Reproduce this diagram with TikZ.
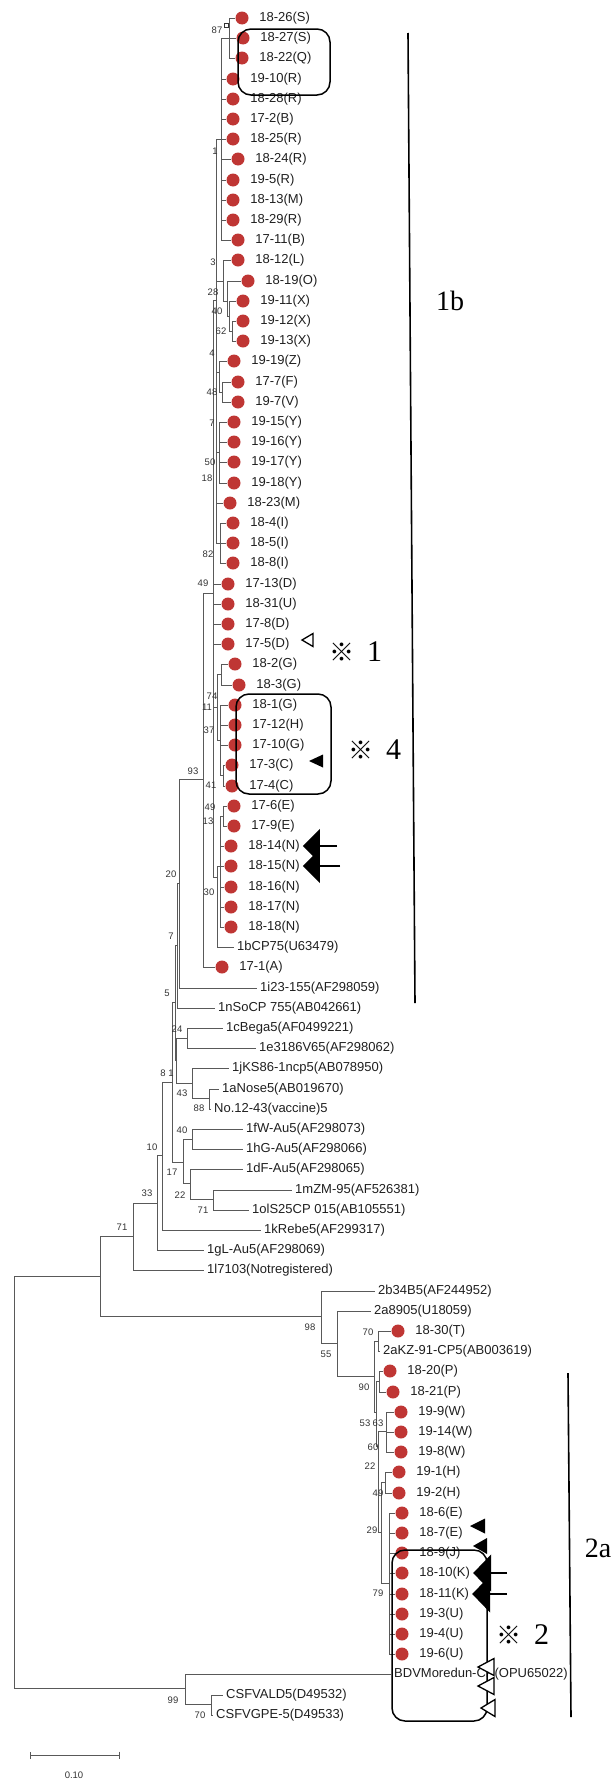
\documentclass[tikz,border=0pt]{standalone}
\usepackage{fontspec}
\setmainfont{Liberation Serif}
\setsansfont{Liberation Sans}
\newfontfamily\jpfont{Noto Sans CJK JP}
\usepackage{xcolor}
\usepackage{tikz}
\usetikzlibrary{positioning,arrows.meta}
\definecolor{dotred}{RGB}{191,54,52}
\newcommand{\refm}{{\jpfont\fontsize{25}{25}\selectfont ※}\hspace{13pt}}

\begin{document}
\begin{tikzpicture}[
  x=1pt, y=-1pt,
  br/.style={draw=black!65, line width=0.9pt},
  samp/.style={circle, fill=dotred, minimum size=13pt, inner sep=0pt},
  lab/.style={font=\sffamily\fontsize{13}{15}\selectfont, text=black!88,
              inner xsep=3pt, inner ysep=1pt, anchor=west},
  bs/.style={font=\sffamily\fontsize{9.5}{10}\selectfont, text=black!80, inner sep=0pt},
  grp/.style={draw=black, line width=1.5pt, rounded corners=13pt},
  clbar/.style={draw=black, line width=1.6pt},
  cl/.style={font=\fontsize{28}{28}\selectfont, inner sep=0pt},
  note/.style={font=\fontsize{30}{30}\selectfont, inner sep=0pt, anchor=west},
  bigarr/.style={draw=black, line width=1.3pt, -{Triangle[length=17pt,width=34pt]}},
  bigarrb/.style={draw=black, line width=1.3pt, -{Triangle[length=18pt,width=37pt]}},
  pics/fmk/.style args={#1/#2}{code={\fill[black] (0,0) -- (#1,#2/2) -- (#1,-#2/2) -- cycle;}},
  pics/omk/.style args={#1/#2}{code={\draw[black, line width=1.3pt, line join=miter, fill=white]
    (0,0) -- (#1,#2/2) -- (#1,-#2/2) -- cycle;}},
]
\useasboundingbox (0,0) rectangle (615,1780);

% sampled strains and reference strains
\node[samp] (d1826) at (242,18) {}; \node[lab, right=7.5pt of d1826] (t1826) {18-26(S)};
\node[samp] (d1827) at (243,38) {}; \node[lab, right=7.5pt of d1827] (t1827) {18-27(S)};
\node[samp] (d1822) at (242,58) {}; \node[lab, right=7.5pt of d1822] (t1822) {18-22(Q)};
\node[samp] (d1910) at (233,79) {}; \node[lab, right=7.5pt of d1910] (t1910) {19-10(R)};
\node[samp] (d1828) at (233,99) {}; \node[lab, right=7.5pt of d1828] (t1828) {18-28(R)};
\node[samp] (d172) at (233,119) {}; \node[lab, right=7.5pt of d172] (t172) {17-2(B)};
\node[samp] (d1825) at (233,139) {}; \node[lab, right=7.5pt of d1825] (t1825) {18-25(R)};
\node[samp] (d1824) at (238,159) {}; \node[lab, right=7.5pt of d1824] (t1824) {18-24(R)};
\node[samp] (d195) at (233,180) {}; \node[lab, right=7.5pt of d195] (t195) {19-5(R)};
\node[samp] (d1813) at (233,200) {}; \node[lab, right=7.5pt of d1813] (t1813) {18-13(M)};
\node[samp] (d1829) at (233,220) {}; \node[lab, right=7.5pt of d1829] (t1829) {18-29(R)};
\node[samp] (d1711) at (238,240) {}; \node[lab, right=7.5pt of d1711] (t1711) {17-11(B)};
\node[samp] (d1812) at (238,260) {}; \node[lab, right=7.5pt of d1812] (t1812) {18-12(L)};
\node[samp] (d1819) at (248,281) {}; \node[lab, right=7.5pt of d1819] (t1819) {18-19(O)};
\node[samp] (d1911) at (243,301) {}; \node[lab, right=7.5pt of d1911] (t1911) {19-11(X)};
\node[samp] (d1912) at (243,321) {}; \node[lab, right=7.5pt of d1912] (t1912) {19-12(X)};
\node[samp] (d1913) at (243,341) {}; \node[lab, right=7.5pt of d1913] (t1913) {19-13(X)};
\node[samp] (d1919) at (234,361) {}; \node[lab, right=7.5pt of d1919] (t1919) {19-19(Z)};
\node[samp] (d177) at (238,382) {}; \node[lab, right=7.5pt of d177] (t177) {17-7(F)};
\node[samp] (d197) at (238,402) {}; \node[lab, right=7.5pt of d197] (t197) {19-7(V)};
\node[samp] (d1915) at (234,422) {}; \node[lab, right=7.5pt of d1915] (t1915) {19-15(Y)};
\node[samp] (d1916) at (234,442) {}; \node[lab, right=7.5pt of d1916] (t1916) {19-16(Y)};
\node[samp] (d1917) at (234,462) {}; \node[lab, right=7.5pt of d1917] (t1917) {19-17(Y)};
\node[samp] (d1918) at (234,483) {}; \node[lab, right=7.5pt of d1918] (t1918) {19-18(Y)};
\node[samp] (d1823) at (230,503) {}; \node[lab, right=7.5pt of d1823] (t1823) {18-23(M)};
\node[samp] (d184) at (233,523) {}; \node[lab, right=7.5pt of d184] (t184) {18-4(I)};
\node[samp] (d185) at (233,543) {}; \node[lab, right=7.5pt of d185] (t185) {18-5(I)};
\node[samp] (d188) at (233,563) {}; \node[lab, right=7.5pt of d188] (t188) {18-8(I)};
\node[samp] (d1713) at (228,584) {}; \node[lab, right=7.5pt of d1713] (t1713) {17-13(D)};
\node[samp] (d1831) at (228,604) {}; \node[lab, right=7.5pt of d1831] (t1831) {18-31(U)};
\node[samp] (d178) at (228,624) {}; \node[lab, right=7.5pt of d178] (t178) {17-8(D)};
\node[samp] (d175) at (228,644) {}; \node[lab, right=7.5pt of d175] (t175) {17-5(D)};
\node[samp] (d182) at (235,664) {}; \node[lab, right=7.5pt of d182] (t182) {18-2(G)};
\node[samp] (d183) at (239,685) {}; \node[lab, right=7.5pt of d183] (t183) {18-3(G)};
\node[samp] (d181) at (235,705) {}; \node[lab, right=7.5pt of d181] (t181) {18-1(G)};
\node[samp] (d1712) at (235,725) {}; \node[lab, right=7.5pt of d1712] (t1712) {17-12(H)};
\node[samp] (d1710) at (235,745) {}; \node[lab, right=7.5pt of d1710] (t1710) {17-10(G)};
\node[samp] (d173) at (232,765) {}; \node[lab, right=7.5pt of d173] (t173) {17-3(C)};
\node[samp] (d174) at (232,786) {}; \node[lab, right=7.5pt of d174] (t174) {17-4(C)};
\node[samp] (d176) at (234,806) {}; \node[lab, right=7.5pt of d176] (t176) {17-6(E)};
\node[samp] (d179) at (234,826) {}; \node[lab, right=7.5pt of d179] (t179) {17-9(E)};
\node[samp] (d1814) at (231,846) {}; \node[lab, right=7.5pt of d1814] (t1814) {18-14(N)};
\node[samp] (d1815) at (231,866) {}; \node[lab, right=7.5pt of d1815] (t1815) {18-15(N)};
\node[samp] (d1816) at (231,887) {}; \node[lab, right=7.5pt of d1816] (t1816) {18-16(N)};
\node[samp] (d1817) at (231,907) {}; \node[lab, right=7.5pt of d1817] (t1817) {18-17(N)};
\node[samp] (d1818) at (231,927) {}; \node[lab, right=7.5pt of d1818] (t1818) {18-18(N)};
\node[lab] (r1bcp) at (234,947) {1bCP75(U63479)};
\node[samp] (d171) at (222,967) {}; \node[lab, right=7.5pt of d171] (t171) {17-1(A)};
\node[lab] (r1i23) at (257,988) {1i23-155(AF298059)};
\node[lab] (r1nso) at (215,1008) {1nSoCP 755(AB042661)};
\node[lab] (r1cbe) at (223,1028) {1cBega5(AF0499221)};
\node[lab] (r1e31) at (256,1048) {1e3186V65(AF298062)};
\node[lab] (r1jks) at (229,1068) {1jKS86-1ncp5(AB078950)};
\node[lab] (r1ano) at (219,1089) {1aNose5(AB019670)};
\node[lab] (rno12) at (211,1109) {No.12-43(vaccine)5};
\node[lab] (r1fw) at (243,1129) {1fW-Au5(AF298073)};
\node[lab] (r1hg) at (243,1149) {1hG-Au5(AF298066)};
\node[lab] (r1df) at (243,1169) {1dF-Au5(AF298065)};
\node[lab] (r1mzm) at (292,1190) {1mZM-95(AF526381)};
\node[lab] (r1ols) at (249,1210) {1olS25CP 015(AB105551)};
\node[lab] (r1kre) at (261,1230) {1kRebe5(AF299317)};
\node[lab] (r1gl) at (204,1250) {1gL-Au5(AF298069)};
\node[lab] (r1l7) at (204,1270) {1l7103(Notregistered)};
\node[lab] (r2b34) at (375,1291) {2b34B5(AF244952)};
\node[lab] (r2a89) at (371,1311) {2a8905(U18059)};
\node[samp] (d1830) at (398,1331) {}; \node[lab, right=7.5pt of d1830] (t1830) {18-30(T)};
\node[lab] (r2akz) at (380,1351) {2aKZ-91-CP5(AB003619)};
\node[samp] (d1820) at (390,1371) {}; \node[lab, right=7.5pt of d1820] (t1820) {18-20(P)};
\node[samp] (d1821) at (393,1392) {}; \node[lab, right=7.5pt of d1821] (t1821) {18-21(P)};
\node[samp] (d199) at (401,1412) {}; \node[lab, right=7.5pt of d199] (t199) {19-9(W)};
\node[samp] (d1914) at (401,1432) {}; \node[lab, right=7.5pt of d1914] (t1914) {19-14(W)};
\node[samp] (d198) at (401,1452) {}; \node[lab, right=7.5pt of d198] (t198) {19-8(W)};
\node[samp] (d191) at (399,1472) {}; \node[lab, right=7.5pt of d191] (t191) {19-1(H)};
\node[samp] (d192) at (399,1493) {}; \node[lab, right=7.5pt of d192] (t192) {19-2(H)};
\node[samp] (d186) at (402,1513) {}; \node[lab, right=7.5pt of d186] (t186) {18-6(E)};
\node[samp] (d187) at (402,1533) {}; \node[lab, right=7.5pt of d187] (t187) {18-7(E)};
\node[samp] (d189) at (402,1553) {}; \node[lab, right=7.5pt of d189] (t189) {18-9(J)};
\node[samp] (d1810) at (402,1573) {}; \node[lab, right=7.5pt of d1810] (t1810) {18-10(K)};
\node[samp] (d1811) at (402,1594) {}; \node[lab, right=7.5pt of d1811] (t1811) {18-11(K)};
\node[samp] (d193) at (402,1614) {}; \node[lab, right=7.5pt of d193] (t193) {19-3(U)};
\node[samp] (d194) at (402,1634) {}; \node[lab, right=7.5pt of d194] (t194) {19-4(U)};
\node[samp] (d196) at (402,1654) {}; \node[lab, right=7.5pt of d196] (t196) {19-6(U)};
\node[lab] (rbdv) at (391,1674) {BDVMoredun-CP(OPU65022)};
\node[lab] (rcsfa) at (223,1695) {CSFVALD5(D49532)};
\node[lab] (rcsfg) at (213,1715) {CSFVGPE-5(D49533)};

% internal nodes
\coordinate (n87) at (229,38);  \coordinate (nT) at (221,139);
\coordinate (n3) at (223,281);  \coordinate (n28) at (227,301);
\coordinate (n40) at (229,316); \coordinate (n62) at (232,331);
\coordinate (n4) at (219,372);  \coordinate (n48) at (222,392);
\coordinate (n7b) at (219,452); \coordinate (n82) at (220,543);
\coordinate (nU) at (216,300);  \coordinate (n74a) at (221,674);
\coordinate (n41) at (223,775); \coordinate (n37) at (220,740);
\coordinate (n74) at (217,707); \coordinate (n49c) at (223,816);
\coordinate (n13) at (220,866); \coordinate (n30) at (217,877);
\coordinate (n49) at (213,593); \coordinate (n93) at (203,779);
\coordinate (n20) at (179,883); \coordinate (n7) at (177,945);
\coordinate (n24) at (187,1038); \coordinate (n88) at (209,1098);
\coordinate (n43) at (192,1083); \coordinate (n1c) at (176,1060);
\coordinate (n5) at (175,1002); \coordinate (n40b) at (192,1139);
\coordinate (n71b) at (213,1199); \coordinate (n22b) at (190,1183);
\coordinate (n17) at (183,1162); \coordinate (n8) at (172,1082);
\coordinate (n10) at (162,1155); \coordinate (n33) at (157,1203);
\coordinate (n71) at (133,1236); \coordinate (nA) at (100,1276);
\coordinate (n98) at (321,1316); \coordinate (n55) at (337,1343);
\coordinate (n90) at (374,1376); \coordinate (n70) at (378,1341);
\coordinate (nP) at (379,1381); \coordinate (n63) at (386,1431);
\coordinate (nH) at (385,1482); \coordinate (n79) at (389,1583);
\coordinate (n29) at (381,1532); \coordinate (n22) at (378,1446);
\coordinate (n53) at (376,1412); \coordinate (n99) at (185,1688);
\coordinate (n70c) at (211,1704); \coordinate (nR) at (14,1482);

% branches
\draw[br] (n87) |- (d1826.west) (n87) |- (d1827.west) (n87) |- (d1822.west);
\draw[br] (nT) |- (n87) (nT) |- (d1910.west) (nT) |- (d1828.west) (nT) |- (d172.west)
  (nT) |- (d1825.west) (nT) |- (d1824.west) (nT) |- (d195.west) (nT) |- (d1813.west)
  (nT) |- (d1829.west) (nT) |- (d1711.west);
\draw[br] (n3) |- (d1812.west) (n3) |- (n28);
\draw[br] (n28) |- (d1819.west) (n28) |- (n40);
\draw[br] (n40) |- (d1911.west) (n40) |- (n62);
\draw[br] (n62) |- (d1912.west) (n62) |- (d1913.west);
\draw[br] (n4) |- (d1919.west) (n4) |- (n48);
\draw[br] (n48) |- (d177.west) (n48) |- (d197.west);
\draw[br] (n7b) |- (d1915.west) (n7b) |- (d1916.west) (n7b) |- (d1917.west) (n7b) |- (d1918.west);
\draw[br] (n82) |- (d184.west) (n82) |- (d185.west) (n82) |- (d188.west);
\draw[br] (nU) |- (nT) (nU) |- (n3) (nU) |- (n4) (nU) |- (n7b) (nU) |- (d1823.west) (nU) |- (n82);
\draw[br] (n74a) |- (d182.west) (n74a) |- (d183.west);
\draw[br] (n41) |- (d173.west) (n41) |- (d174.west);
\draw[br] (n37) |- (d181.west) (n37) |- (d1712.west) (n37) |- (d1710.west) (n37) |- (n41);
\draw[br] (n74) |- (n74a) (n74) |- (n37);
\draw[br] (n49c) |- (d176.west) (n49c) |- (d179.west);
\draw[br] (n13) |- (n49c) (n13) |- (d1814.west) (n13) |- (d1815.west) (n13) |- (d1816.west)
  (n13) |- (d1817.west) (n13) |- (d1818.west);
\draw[br] (n30) |- (n13) (n30) |- (r1bcp.west);
\draw[br] (n49) |- (nU) (n49) |- (d1713.west) (n49) |- (d1831.west) (n49) |- (d178.west)
  (n49) |- (d175.west) (n49) |- (n74) (n49) |- (n30);
\draw[br] (n93) |- (n49) (n93) |- (d171.west);
\draw[br] (n20) |- (n93) (n20) |- (r1i23.west);
\draw[br] (n7) |- (n20) (n7) |- (r1nso.west);
\draw[br] (n24) |- (r1cbe.west) (n24) |- (r1e31.west);
\draw[br] (n88) |- (r1ano.west) (n88) |- (rno12.west);
\draw[br] (n43) |- (r1jks.west) (n43) |- (n88);
\draw[br] (n1c) |- (n24) (n1c) |- (n43);
\draw[br] (n5) |- (n7) (n5) |- (n1c);
\draw[br] (n40b) |- (r1fw.west) (n40b) |- (r1hg.west);
\draw[br] (n71b) |- (r1mzm.west) (n71b) |- (r1ols.west);
\draw[br] (n22b) |- (r1df.west) (n22b) |- (n71b);
\draw[br] (n17) |- (n40b) (n17) |- (n22b);
\draw[br] (n8) |- (n5) (n8) |- (n17);
\draw[br] (n10) |- (n8) (n10) |- (r1kre.west);
\draw[br] (n33) |- (n10) (n33) |- (r1gl.west);
\draw[br] (n71) |- (n33) (n71) |- (r1l7.west);
\draw[br] (n70) |- (d1830.west) (n70) |- (r2akz.west);
\draw[br] (nP) |- (d1820.west) (nP) |- (d1821.west);
\draw[br] (n63) |- (d199.west) (n63) |- (d1914.west) (n63) |- (d198.west);
\draw[br] (nH) |- (d191.west) (nH) |- (d192.west);
\draw[br] (n79) |- (d186.west) (n79) |- (d187.west) (n79) |- (d189.west) (n79) |- (d1810.west)
  (n79) |- (d1811.west) (n79) |- (d193.west) (n79) |- (d194.west) (n79) |- (d196.west);
\draw[br] (n29) |- (nH) (n29) |- (n79);
\draw[br] (n22) |- (n63) (n22) |- (n29);
\draw[br] (n53) |- (nP) (n53) |- (n22);
\draw[br] (n90) |- (n70) (n90) |- (n53);
\draw[br] (n55) |- (r2a89.west) (n55) |- (n90);
\draw[br] (n98) |- (r2b34.west) (n98) |- (n55);
\draw[br] (nA) |- (n71) (nA) |- (n98);
\draw[br] (n70c) |- (rcsfa.west) (n70c) |- (rcsfg.west);
\draw[br] (n99) |- (rbdv.west) (n99) |- (n70c);
\draw[br] (nR) |- (nA) (nR) |- (n99);
\node[draw=black!80, line width=0.8pt, minimum size=4pt, inner sep=0pt] (sq87) at (226,25) {};

% bootstrap values
\node[bs] (b87) at (217,30) {87};
\node[bs] (b1) at (215,151) {1};
\node[bs] (b3) at (213,262) {3};
\node[bs] (b28) at (213,292) {28};
\node[bs] (b40) at (217,311) {40};
\node[bs] (b62) at (221,331) {62};
\node[bs] (b4) at (212,353) {4};
\node[bs] (b48) at (212,392) {48};
\node[bs] (b7) at (212,423) {7};
\node[bs] (b50) at (210,462) {50};
\node[bs] (b18) at (207,478) {18};
\node[bs] (b82) at (208,554) {82};
\node[bs] (b49) at (203,583) {49};
\node[bs] (b74) at (212,696) {74};
\node[bs] (b11) at (207,707) {11};
\node[bs] (b37) at (209,730) {37};
\node[bs] (b93) at (193,771) {93};
\node[bs] (b41) at (211,785) {41};
\node[bs] (b49c) at (210,807) {49};
\node[bs] (b13) at (208,821) {13};
\node[bs] (b30) at (209,892) {30};
\node[bs] (b20) at (171,874) {20};
\node[bs] (b7b) at (171,936) {7};
\node[bs] (b5) at (167,993) {5};
\node[bs] (b24) at (177,1029) {24};
\node[bs] (b8) at (163,1073) {8};
\node[bs] (b1c) at (171,1073) {1};
\node[bs] (b43) at (182,1093) {43};
\node[bs] (b88) at (199,1108) {88};
\node[bs] (b40b) at (182,1130) {40};
\node[bs] (b10) at (152,1147) {10};
\node[bs] (b17) at (172,1172) {17};
\node[bs] (b22b) at (180,1195) {22};
\node[bs] (b33) at (147,1193) {33};
\node[bs] (b71b) at (203,1210) {71};
\node[bs] (b71) at (122,1227) {71};
\node[bs] (b98) at (310,1327) {98};
\node[bs] (b70) at (368,1332) {70};
\node[bs] (b55) at (326,1354) {55};
\node[bs] (b90) at (364,1387) {90};
\node[bs] (b53) at (365,1423) {53};
\node[bs] (b63) at (378,1423) {63};
\node[bs] (b60) at (373,1447) {60};
\node[bs] (b22) at (370,1466) {22};
\node[bs] (b49d) at (378,1493) {49};
\node[bs] (b29) at (372,1530) {29};
\node[bs] (b79) at (378,1593) {79};
\node[bs] (b99) at (173,1700) {99};
\node[bs] (b70c) at (200,1715) {70};

% groups, clades and markers
\draw[grp] (238,29) rectangle (330,95);
\draw[grp] (236,694) rectangle (331,794);
\draw[grp] (392,1550) rectangle (487,1721);
\coordinate (c1t) at (408,33); \coordinate (c1b) at (415,1003);
\draw[clbar] (c1t) -- (c1b);
\coordinate (c2t) at (568,1373); \coordinate (c2b) at (571,1717);
\draw[clbar] (c2t) -- (c2b);
\node[cl] (l1b) at (450,301) {1b};
\node[cl] (l2a) at (598,1548) {2a};
\node[note] (k1) at (329,652) {\refm 1};
\node[note] (k4) at (348,750) {\refm 4};
\node[note] (k2) at (496,1635) {\refm 2};
\pic at (302,640) {omk=11/13};
\pic at (309,761) {fmk=14/13};
\pic at (470,1526) {fmk=15/15};
\pic at (473,1546) {fmk=14/16};
\pic at (478,1667) {omk=16/17};
\pic at (478,1686) {omk=16/17};
\pic at (481,1708) {omk=14/17};
\coordinate (a1814) at (337,846); \coordinate (a1815) at (340,866);
\draw[bigarr] (a1814) -- (t1814.east);
\draw[bigarr] (a1815) -- (t1815.east);
\coordinate (a1810) at (507,1573); \coordinate (a1811) at (507,1594);
\draw[bigarrb] (a1810) -- (t1810.east);
\draw[bigarrb] (a1811) -- (t1811.east);

% scale bar
\coordinate (sb1) at (30,1755); \coordinate (sb2) at (120,1755);
\draw[br, {Bar[width=7pt]}-{Bar[width=7pt]}] (sb1) -- (sb2);
\node[bs] (sbl) at (74,1775) {0.10};
\end{tikzpicture}
\end{document}
